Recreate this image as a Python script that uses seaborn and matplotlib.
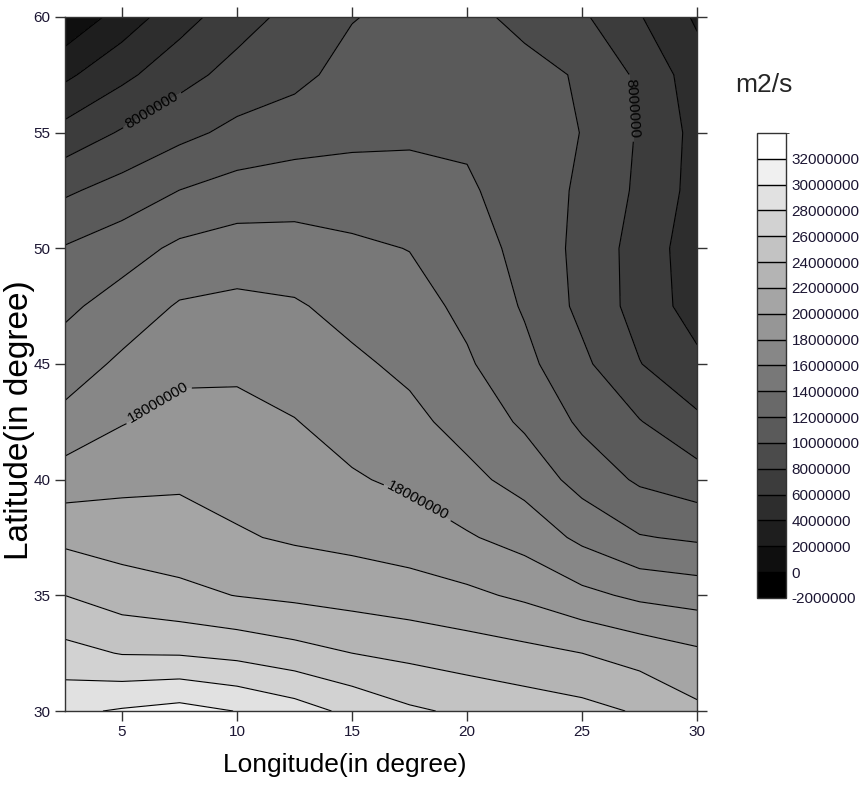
import numpy as np
import matplotlib
matplotlib.use("Agg")
import matplotlib.pyplot as plt
from matplotlib.colors import ListedColormap, BoundaryNorm
import seaborn as sns

# grid nodes (degrees)
lon = [2.5, 5, 7.5, 10, 12.5, 15, 17.5, 20, 22.5, 25, 27.5, 30]
lat = [60, 57.5, 55, 52.5, 50, 47.5, 45, 42.5, 40, 37.5, 35, 32.5, 30]

# values, in millions of m2/s, one list per latitude row
row_60 = [0.3, 2.85, 5.2, 7.14, 8.63, 9.9, 10.6, 10.5, 9.5, 8.3, 6.13, 3.7]
row_57_5 = [3.58, 5.51, 7.28, 8.71, 9.45, 10.74, 11.21, 11.0, 10.6, 9.8, 7.61, 4.9]
row_55 = [6.69, 8.2, 9.46, 10.5, 11.1, 11.5, 11.7, 11.65, 10.8, 9.96, 7.79, 5.4]
row_52_5 = [9.68, 10.79, 12.02, 12.8, 13.04, 12.96, 12.7, 12.29, 11.0, 9.71, 7.63, 5.3]
row_50 = [12.13, 13.12, 14.4, 14.91, 14.82, 14.36, 13.95, 12.91, 11.4, 9.43, 7.2, 4.9]
row_47_5 = [13.58, 14.85, 16.19, 16.47, 16.21, 15.38, 14.77, 13.53, 11.8, 9.49, 7.24, 5.1]
row_45 = [14.98, 16.37, 17.52, 17.65, 17.15, 16.36, 15.57, 14.25, 12.54, 10.44, 8.07, 6.45]
row_42_5 = [16.58, 17.89, 18.66, 18.54, 18.07, 17.25, 16.51, 15.29, 13.67, 11.64, 10.1, 8.41]
row_40 = [18.96, 19.5, 19.69, 19.32, 18.91, 18.2, 17.61, 16.53, 15.29, 13.25, 11.71, 10.88]
row_37_5 = [21.53, 21.09, 20.91, 20.2, 19.75, 19.43, 19.01, 18.2, 17.25, 15.56, 14.13, 13.71]
row_35 = [24.0, 23.04, 22.48, 21.95, 21.6, 21.25, 20.89, 20.42, 19.65, 18.51, 17.6, 17.19]
row_32_5 = [26.64, 25.9, 25.83, 25.41, 24.72, 24.0, 23.5, 23.0, 22.56, 22.0, 21.2, 20.36]
row_30 = [29.6, 30.2, 30.7, 29.95, 28.9, 27.5, 26.3, 25.64, 25.07, 24.6, 23.8, 22.4]

# contour levels in m2/s
levels = list(range(-2000000, 34000001, 2000000))
labelled = [8000000, 18000000]

sns.set_style("ticks")
plt.rcParams["font.family"] = ["Liberation Sans", "DejaVu Sans"]

Z = np.array([row_60, row_57_5, row_55, row_52_5, row_50, row_47_5, row_45,
              row_42_5, row_40, row_37_5, row_35, row_32_5, row_30]) * 1e6

grays = sns.blend_palette(["#000000", "#ffffff"], n_colors=len(levels) - 1)
cmap = ListedColormap(grays)
norm = BoundaryNorm(levels, cmap.N)

fig = plt.figure(figsize=(8.66, 7.86), dpi=100)
ax = fig.add_axes([0.0745, 0.0954, 0.7305, 0.883])

cf = ax.contourf(lon, lat, Z, levels=levels, cmap=cmap, norm=norm)
plain = [v for v in levels if v not in labelled]
ax.contour(lon, lat, Z, levels=plain, colors="black", linewidths=0.8)
# labelled lines drawn on their own so clabel only sees these levels
cs = ax.contour(lon, lat, Z, levels=labelled, colors="black", linewidths=0.8)
ax.clabel(cs, fmt=lambda v: "%d" % round(v), fontsize=11,
          colors="black", inline=True, inline_spacing=4,
          manual=[(6.35, 55.9), (27.26, 56.07), (6.52, 43.4), (17.74, 38.86)])

ax.set_xlim(2.5, 30)
ax.set_ylim(30, 60)
ax.set_xticks([5, 10, 15, 20, 25, 30])
ax.set_yticks([30, 35, 40, 45, 50, 55, 60])
txt = "#1c1633"
ax.tick_params(direction="out", length=7, width=1, color="#333333",
               top=True, right=True, labeltop=False, labelright=False,
               labelsize=11, labelcolor=txt, pad=3)
for s in ax.spines.values():
    s.set_color("#333333")
    s.set_linewidth(1)

ax.set_xlabel("Longitude(in degree)", fontsize=19, color="black")
ax.xaxis.set_label_coords(0.4435, -0.078)
ax.xaxis.label.set_va("center")
ax.set_ylabel("Latitude(in degree)", fontsize=24, color="black")
ax.yaxis.set_label_coords(-0.071, 0.4186)
ax.yaxis.label.set_va("center")

cax = fig.add_axes([0.874, 0.2392, 0.0335, 0.5916])
cb = fig.colorbar(cf, cax=cax, ticks=levels[:-1], drawedges=True)
cb.set_ticklabels(["%d" % v for v in levels[:-1]])
cb.ax.tick_params(length=0, labelsize=11, labelcolor=txt, pad=4)
cb.dividers.set_color("black")
cb.dividers.set_linewidth(1)
cb.outline.set_edgecolor("#333333")
cb.outline.set_linewidth(1)

fig.text(0.882, 0.892, "m2/s", fontsize=19, ha="center", va="center")

fig.savefig("out.png", dpi=100)
